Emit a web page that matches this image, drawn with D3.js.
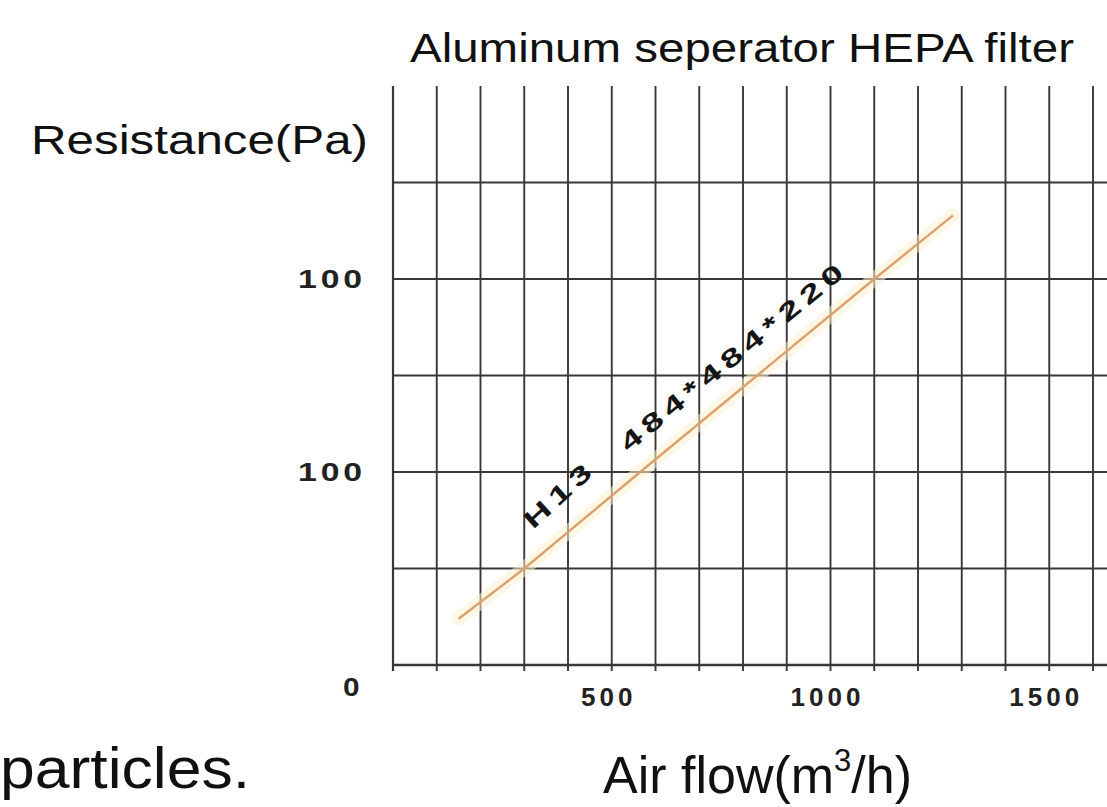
<!DOCTYPE html>
<html>
<head>
<meta charset="utf-8">
<script src="https://cdn.jsdelivr.net/npm/d3@7"></script>
<style>
  html, body { margin: 0; padding: 0; background: #fff; }
  svg { display: block; font-family: "Liberation Sans", Arial, sans-serif; }
</style>
</head>
<body>
<svg id="chart" width="1107" height="807"></svg>
<script>
// ---- data ----
const title = "Aluminum seperator HEPA filter";
const yAxisTitle = "Resistance(Pa)";
const xAxisTitle = "Air flow(m";
const fragmentText = "particles.";
const xTickValues = [500, 1000, 1500];
const xTickLabels = ["500", "1000", "1500"];
const yTickValues = [0, 100, 200];
const yTickLabels = ["0", "100", "100"];
const airflow = [150, 300, 565, 1100, 1280];
const resistance = [24, 50, 100, 200, 233];
const lineLabels = ["H13", "484*484*220"];
const lineLabelX = [320, 538];
const lineLabelY = [70, 110];

// ---- layout ----
const W = 1107, H = 807;
const svg = d3.select("#chart");
const x = d3.scaleLinear().domain([0, 1600]).range([393, 1093]);
const y = d3.scaleLinear().domain([0, 300]).range([665, 86]);
const gridColor = "#383838";

// vertical grid lines (every 100)
const g = svg.append("g");
g.selectAll("line.v").data(d3.range(0, 1601, 100)).join("line")
  .attr("x1", d => x(d)).attr("x2", d => x(d))
  .attr("y1", y(300)).attr("y2", y(0) + 6)
  .attr("stroke", gridColor).attr("stroke-width", d => d === 0 ? 2.2 : 1.9);

// horizontal grid lines (every 50)
g.selectAll("line.h").data(d3.range(0, 251, 50)).join("line")
  .attr("x1", x(0)).attr("x2", W)
  .attr("y1", d => y(d)).attr("y2", d => y(d))
  .attr("stroke", gridColor).attr("stroke-width", d => d === 0 ? 2.4 : 1.9);

// series line with soft glow
const pts = airflow.map((a, i) => [a, resistance[i]]);
const lineGen = d3.line().x(d => x(d[0])).y(d => y(d[1]));
svg.append("path").attr("d", lineGen(pts))
  .attr("fill", "none").attr("stroke", "#fff1cf").attr("stroke-width", 14)
  .attr("stroke-opacity", 0.55).attr("stroke-linecap", "round");
svg.append("path").attr("d", lineGen(pts))
  .attr("fill", "none").attr("stroke", "#dea06c").attr("stroke-width", 2.4);

// line labels
const pxAngle = Math.atan2(y(resistance[4]) - y(resistance[0]), x(airflow[4]) - x(airflow[0])) * 180 / Math.PI;
const labelAngles = [pxAngle - 3, pxAngle];
const labelLengths = [88, 286];
lineLabels.forEach((t, i) => {
  svg.append("text")
    .attr("transform", `translate(${x(lineLabelX[i])},${y(lineLabelY[i])}) rotate(${labelAngles[i]})`)
    .attr("font-size", 25).attr("font-weight", "bold").attr("fill", "#151515")
    .attr("letter-spacing", 4)
    .attr("textLength", labelLengths[i]).attr("lengthAdjust", "spacingAndGlyphs")
    .text(t);
});

// title
svg.append("text").attr("x", 410).attr("y", 62)
  .attr("font-size", 40).attr("fill", "#111")
  .attr("textLength", 664).attr("lengthAdjust", "spacingAndGlyphs")
  .text(title);

// y axis title
svg.append("text").attr("x", 31).attr("y", 154)
  .attr("font-size", 41).attr("fill", "#111")
  .attr("textLength", 337).attr("lengthAdjust", "spacingAndGlyphs")
  .text(yAxisTitle);

// y tick labels
svg.selectAll("text.yt").data(yTickValues).join("text")
  .attr("x", d => d === 0 ? 343 : 298)
  .attr("y", d => d === 0 ? y(d) + 22 : y(d))
  .attr("dy", "0.36em")
  .attr("font-size", 26).attr("font-weight", "bold").attr("fill", "#222")
  .attr("letter-spacing", 3)
  .attr("textLength", (d, i) => yTickLabels[i].length * 24 - 4)
  .attr("lengthAdjust", "spacingAndGlyphs")
  .text((d, i) => yTickLabels[i]);

// x tick labels
svg.selectAll("text.xt").data(xTickValues).join("text")
  .attr("x", d => x(d) - 3)
  .attr("y", 697).attr("dy", "0.36em")
  .attr("text-anchor", "middle")
  .attr("font-size", 26).attr("font-weight", "bold").attr("fill", "#222")
  .attr("letter-spacing", 4)
  .text((d, i) => xTickLabels[i]);

// x axis title with superscript
const xt = svg.append("text").attr("x", 603).attr("y", 793)
  .attr("font-size", 52).attr("fill", "#111");
xt.append("tspan").text(xAxisTitle);
xt.append("tspan").attr("font-size", 31).attr("dy", -22).text("3");
xt.append("tspan").attr("dy", 22).text("/h)");

// surrounding page fragment
svg.append("text").attr("x", 0).attr("y", 788)
  .attr("font-size", 58).attr("fill", "#111")
  .attr("textLength", 250).attr("lengthAdjust", "spacingAndGlyphs")
  .text(fragmentText);
</script>
</body>
</html>
